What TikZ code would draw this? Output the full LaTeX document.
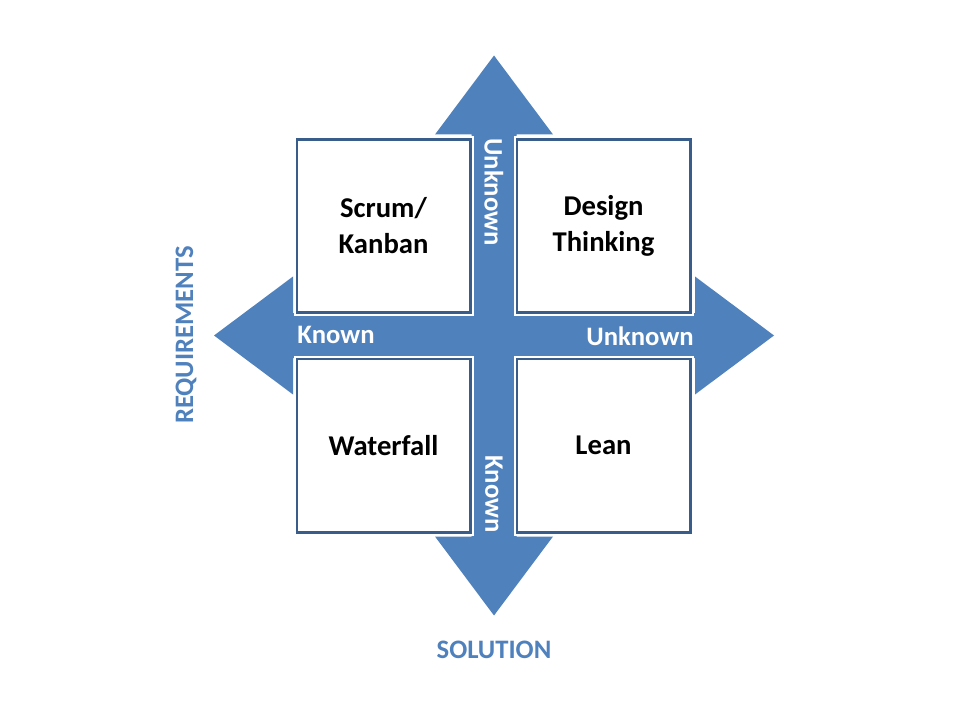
\documentclass[tikz,border=0pt]{standalone}
\usepackage{fontspec}
\setmainfont{Carlito}
\definecolor{arrowblue}{HTML}{4F81BD}
\definecolor{boxline}{HTML}{385D8A}
\tikzset{
  quadbox/.style={draw=boxline, line width=2pt, fill=white,
    preaction={draw=white, line width=5pt},
    minimum width=130pt, minimum height=130pt, inner sep=0pt,
    align=center, font=\fontsize{21.5}{27}\selectfont\bfseries},
  axislabel/.style={text=white, font=\fontsize{20}{24}\selectfont\bfseries, inner sep=0pt},
  axistitle/.style={text=arrowblue, font=\fontsize{20}{24}\selectfont\bfseries, inner sep=0pt}
}
\begin{document}
\begin{tikzpicture}[x=0.75pt, y=-0.75pt]
  \useasboundingbox (0,0) rectangle (960,720);

  % four-way arrow
  \begin{scope}[shift={(494,335.5)}]
    \fill[arrowblue] (0,-280) -- (59,-201) -- (22.5,-201) -- (22.5,-22.5)
      -- (201,-22.5) -- (201,-59) -- (280,0) -- (201,59) -- (201,22.5)
      -- (22.5,22.5) -- (22.5,201) -- (59,201) -- (0,280) -- (-59,201)
      -- (-22.5,201) -- (-22.5,22.5) -- (-201,22.5) -- (-201,59) -- (-280,0)
      -- (-201,-59) -- (-201,-22.5) -- (-22.5,-22.5) -- (-22.5,-201)
      -- (-59,-201) -- cycle;
  \end{scope}

  % quadrants
  \node[quadbox] (scrum)  at (383.5,226)   {Scrum/\\Kanban};
  \node[quadbox] (design) at (603.5,226)   {Design\\Thinking};
  \node[quadbox] (water)  at (383.5,445.5) {Waterfall};
  \node[quadbox] (lean)   at (603.5,445.5) {Lean};

  % labels on the arrow
  \node[axislabel, rotate=-90] (solunk)  at (494,192) {Unknown};
  \node[axislabel, rotate=-90] (solkn)   at (494,494) {Known};
  \node[axislabel] (reqkn)  at (336,335) {Known};
  \node[axislabel] (requnk) at (640,336) {Unknown};

  \node[axistitle, rotate=90] (req) at (186,335) {REQUIREMENTS};
  \node[axistitle] (sol) at (494,650) {SOLUTION};
\end{tikzpicture}
\end{document}
